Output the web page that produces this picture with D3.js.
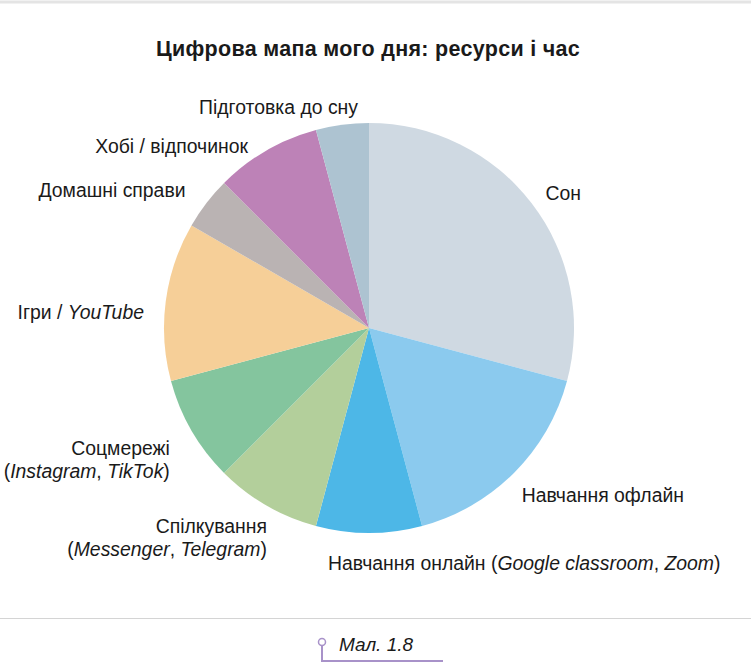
<!DOCTYPE html>
<html lang="uk">
<head>
    <meta charset="UTF-8">
    <title>Цифрова мапа мого дня</title>
    <script src="https://d3js.org/d3.v7.min.js"></script>
    <style>
        body { margin: 0; background: #fff; }
        text { font-family: "Liberation Sans", Arial, sans-serif; fill: #1a1a1a; }
    </style>
</head>
<body>
    <div id="chart"></div>
    <script>
        // hours of the day per activity
        const categories = ["Сон", "Навчання офлайн", "Навчання онлайн", "Спілкування",
            "Соцмережі", "Ігри / YouTube", "Домашні справи", "Хобі / відпочинок", "Підготовка до сну"];
        const hours = [7, 4, 2, 2, 2, 3, 1, 2, 1];
        // label text, *...* = italic, | = line break
        const labels = ["Сон", "Навчання офлайн", "Навчання онлайн (*Google classroom*, *Zoom*)",
            "Спілкування|(*Messenger*, *Telegram*)", "Соцмережі|(*Instagram*, *TikTok*)",
            "Ігри / *YouTube*", "Домашні справи", "Хобі / відпочинок", "Підготовка до сну"];
        const colors = ["#cfd9e2", "#8bcaee", "#4db7e7", "#b3cf9b", "#84c59e",
            "#f6cf98", "#bab3b3", "#bd82b7", "#adc3d1"];

        // label layout: nudge from the outer centroid, anchor
        const labelNudge = [[-6, 12, "start"], [-10, 11, "start"], [-41, 12, "start"],
            [13, 6, "end"], [0, 12, "end"], [3, 21, "end"], [-1, 9, "end"],
            [-6, 24, "end"], [19, 14, "end"]];

        const width = 751, height = 665;
        const cx = 369, cy = 328, radius = 205, labelR = 230;

        const svg = d3.select("#chart").append("svg")
            .attr("width", width)
            .attr("height", height);

        // frame lines
        svg.append("line").attr("x1", 0).attr("x2", width).attr("y1", 2).attr("y2", 2)
            .attr("stroke", "#e4e4e4").attr("stroke-width", 3);
        svg.append("line").attr("x1", 0).attr("x2", width).attr("y1", 618.5).attr("y2", 618.5)
            .attr("stroke", "#d4d4d4").attr("stroke-width", 1);

        svg.append("text")
            .attr("x", 368).attr("y", 56)
            .attr("text-anchor", "middle")
            .style("font-size", "21.5px").style("font-weight", "bold")
            .style("letter-spacing", "0.3px")
            .text("Цифрова мапа мого дня: ресурси і час");

        const data = categories.map((c, i) => ({name: c, value: hours[i], label: labels[i], color: colors[i]}));

        const pie = d3.pie().sort(null).value(d => d.value);
        const arc = d3.arc().innerRadius(0).outerRadius(radius);
        const labelArc = d3.arc().innerRadius(labelR).outerRadius(labelR);
        const arcs = pie(data);

        const g = svg.append("g").attr("transform", `translate(${cx},${cy})`);

        g.selectAll("path")
            .data(arcs)
            .join("path")
            .attr("d", arc)
            .attr("fill", d => d.data.color);

        const lbl = g.selectAll("text.lbl")
            .data(arcs)
            .join("text")
            .attr("class", "lbl")
            .style("font-size", "19.4px")
            .attr("text-anchor", (d, i) => labelNudge[i][2]);

        lbl.each(function(d, i) {
            const [x, y] = labelArc.centroid(d);
            const t = d3.select(this);
            d.data.label.split("|").forEach((line, li) => {
                const parts = line.split("*");
                parts.forEach((p, pi) => {
                    if (!p) return;
                    const ts = t.append("tspan").text(p);
                    if (pi % 2 === 1) ts.style("font-style", "italic");
                    if (pi === 0 || (pi === 1 && !parts[0])) {
                        ts.attr("x", x + labelNudge[i][0]).attr("y", y + labelNudge[i][1] + li * 23);
                    }
                });
            });
        });

        // caption
        const cap = svg.append("g").attr("stroke", "#a892c9").attr("fill", "none").attr("stroke-width", 2);
        cap.append("path").attr("d", "M322,646V661H443");
        cap.append("circle").attr("cx", 322).attr("cy", 642).attr("r", 3.5).attr("fill", "#fff").attr("stroke-width", 1.5);
        svg.append("text")
            .attr("x", 339).attr("y", 651)
            .style("font-size", "19px").style("font-style", "italic")
            .text("Мал. 1.8");
    </script>
</body>
</html>
